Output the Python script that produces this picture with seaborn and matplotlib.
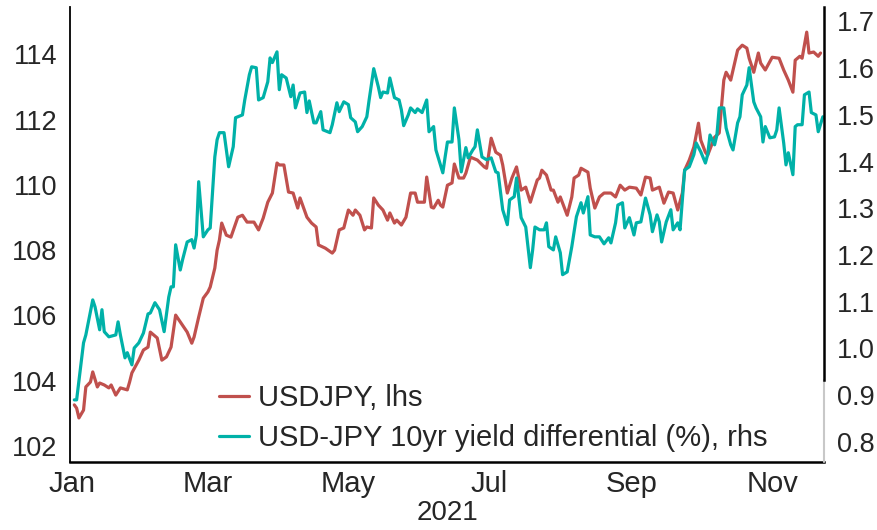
import numpy as np
import pandas as pd
import matplotlib
matplotlib.use("Agg")
import matplotlib.pyplot as plt
import matplotlib.dates as mdates
import seaborn as sns

# ---- data (days since 2021-01-01) ----
usdjpy_days = [1, 2, 3, 5, 6, 8, 9, 11, 12, 14, 16, 17, 19, 21, 24, 25, 26, 29, 31, 33,
               34, 37, 39, 41, 43, 45, 47, 50, 52, 53, 55, 57, 59, 60, 62, 63, 64, 65, 67, 69,
               72, 74, 76, 79, 81, 83, 85, 87, 89, 90, 92, 94, 96, 98, 99, 102, 104, 106, 107, 110,
               113, 114, 116, 118, 120, 122, 123, 125, 127, 128, 130, 131, 133, 135, 137, 138, 140, 141, 143, 145,
               147, 149, 150, 153, 154, 156, 157, 159, 160, 161, 163, 165, 166, 168, 170, 171, 173, 176, 179, 180,
               182, 184, 186, 187, 189, 191, 193, 195, 197, 199, 202, 203, 204, 206, 208, 209, 211, 212, 215, 217,
               218, 220, 221, 224, 225, 227, 229, 231, 234, 236, 238, 240, 242, 245, 247, 249, 251, 252, 255, 257,
               259, 261, 263, 265, 266, 268, 270, 272, 273, 275, 276, 278, 279, 281, 283, 284, 286, 287, 289, 291,
               293, 294, 296, 298, 299, 301, 304, 307, 309, 311, 313, 314, 316, 317, 319, 320, 322, 324, 325]
usdjpy_vals = [103.26, 103.16, 102.86, 103.10, 103.81, 103.96, 104.27, 103.81, 103.93, 103.87,
               103.78, 103.87, 103.56, 103.78, 103.72, 103.96, 104.24, 104.63, 104.94, 105.03,
               105.49, 105.31, 104.63, 104.73, 105.03, 106.01, 105.80, 105.49, 105.15, 105.34,
               105.95, 106.53, 106.72, 106.87, 107.45, 108.00, 108.31, 108.83, 108.46, 108.40,
               109.01, 109.07, 108.86, 108.86, 108.62, 108.98, 109.47, 109.75, 110.67, 110.61,
               110.61, 109.78, 109.75, 109.29, 109.60, 109.01, 108.83, 108.71, 108.16, 108.06,
               107.91, 108.00, 108.62, 108.68, 109.23, 109.07, 109.23, 109.07, 108.62, 108.71,
               108.68, 109.60, 109.38, 109.23, 108.92, 109.14, 108.83, 108.92, 108.77, 109.01,
               109.75, 109.75, 109.47, 109.47, 110.24, 109.32, 109.29, 109.53, 109.38, 109.32,
               109.99, 110.06, 110.64, 110.21, 110.21, 110.36, 110.85, 110.76, 110.55, 110.51,
               111.43, 111.00, 110.91, 110.61, 109.75, 110.21, 110.55, 109.84, 109.93, 109.47,
               110.15, 110.21, 110.45, 110.30, 109.84, 109.84, 109.47, 109.63, 109.07, 109.63,
               110.21, 110.30, 110.51, 110.39, 109.90, 109.29, 109.63, 109.75, 109.75, 109.63,
               109.99, 109.84, 109.93, 109.90, 109.69, 110.24, 110.21, 109.84, 109.93, 109.44,
               109.78, 109.75, 109.23, 109.75, 110.45, 110.76, 111.16, 111.89, 111.37, 111.00,
               110.91, 111.28, 111.46, 111.59, 113.21, 113.45, 113.21, 113.52, 114.13, 114.28,
               114.19, 113.88, 113.45, 114.04, 113.73, 113.52, 113.91, 113.88, 113.52, 113.21,
               112.84, 113.82, 113.94, 113.88, 114.68, 114.04, 114.07, 113.94, 114.04]

spread_days = [1, 2, 5, 6, 9, 10, 12, 13, 14, 16, 19, 20, 21, 23, 24, 26, 27, 29, 31, 33,
               34, 36, 38, 40, 42, 43, 44, 45, 47, 48, 50, 52, 53, 54, 55, 57, 59, 60, 62, 63,
               64, 66, 68, 70, 71, 74, 75, 77, 78, 80, 81, 83, 85, 86, 87, 89, 90, 91, 93, 95,
               96, 97, 99, 101, 102, 103, 105, 106, 108, 109, 111, 112, 113, 115, 116, 118, 120, 121, 123, 124,
               126, 128, 129, 131, 133, 134, 135, 137, 138, 140, 142, 143, 144, 146, 147, 149, 150, 152, 154, 155,
               157, 158, 161, 162, 163, 165, 166, 168, 169, 171, 172, 174, 175, 176, 178, 180, 182, 184, 185, 187,
               189, 190, 192, 193, 195, 197, 199, 200, 201, 203, 205, 206, 207, 209, 210, 212, 213, 215, 217, 219,
               221, 222, 224, 225, 227, 229, 231, 233, 234, 236, 237, 239, 240, 242, 244, 245, 247, 249, 251, 252,
               254, 255, 256, 258, 260, 261, 263, 264, 266, 268, 270, 271, 273, 275, 276, 277, 279, 280, 281, 283,
               284, 286, 287, 289, 290, 291, 293, 294, 296, 297, 299, 300, 301, 303, 305, 306, 307, 309, 310, 311,
               313, 314, 315, 317, 318, 320, 321, 323, 324, 326]
spread_vals = [0.890, 0.890, 1.012, 1.029, 1.104, 1.089, 1.040, 1.083, 1.036, 1.025,
               1.029, 1.057, 1.029, 0.980, 0.991, 0.965, 1.001, 1.012, 1.033, 1.074,
               1.076, 1.098, 1.083, 1.036, 1.110, 1.132, 1.132, 1.222, 1.168, 1.190,
               1.228, 1.233, 1.215, 1.243, 1.357, 1.239, 1.254, 1.258, 1.410, 1.447,
               1.462, 1.462, 1.389, 1.432, 1.494, 1.500, 1.532, 1.586, 1.603, 1.601,
               1.532, 1.537, 1.571, 1.622, 1.612, 1.635, 1.554, 1.586, 1.579, 1.539,
               1.564, 1.515, 1.547, 1.549, 1.505, 1.530, 1.483, 1.483, 1.507, 1.468,
               1.464, 1.462, 1.479, 1.526, 1.507, 1.528, 1.522, 1.494, 1.485, 1.464,
               1.475, 1.496, 1.532, 1.599, 1.560, 1.537, 1.549, 1.547, 1.579, 1.537,
               1.532, 1.511, 1.477, 1.500, 1.515, 1.505, 1.513, 1.505, 1.532, 1.464,
               1.475, 1.425, 1.376, 1.410, 1.442, 1.442, 1.515, 1.447, 1.378, 1.430,
               1.408, 1.425, 1.432, 1.468, 1.410, 1.404, 1.408, 1.378, 1.376, 1.297,
               1.265, 1.318, 1.325, 1.365, 1.280, 1.260, 1.173, 1.211, 1.260, 1.254,
               1.254, 1.269, 1.218, 1.211, 1.239, 1.205, 1.158, 1.164, 1.218, 1.282,
               1.312, 1.290, 1.325, 1.243, 1.239, 1.239, 1.224, 1.237, 1.226, 1.269,
               1.307, 1.312, 1.258, 1.280, 1.243, 1.269, 1.271, 1.322, 1.286, 1.250,
               1.286, 1.271, 1.228, 1.271, 1.297, 1.254, 1.269, 1.254, 1.382, 1.389,
               1.415, 1.440, 1.421, 1.397, 1.415, 1.457, 1.436, 1.457, 1.515, 1.515,
               1.472, 1.436, 1.425, 1.483, 1.496, 1.543, 1.564, 1.601, 1.528, 1.515,
               1.496, 1.442, 1.475, 1.451, 1.453, 1.468, 1.515, 1.440, 1.393, 1.419,
               1.372, 1.475, 1.479, 1.479, 1.543, 1.549, 1.505, 1.500, 1.464, 1.496]

labels = ["USDJPY, lhs", "USD-JPY 10yr yield differential (%), rhs"]
left_ticks = [102, 104, 106, 108, 110, 112, 114]
right_ticks = [0.8, 0.9, 1.0, 1.1, 1.2, 1.3, 1.4, 1.5, 1.6, 1.7]
year_label = "2021"

# ---- build frames ----
start = pd.Timestamp("2021-01-01")
df_usd = pd.DataFrame({"date": start + pd.to_timedelta(usdjpy_days, unit="D"), "value": usdjpy_vals})
df_spr = pd.DataFrame({"date": start + pd.to_timedelta(spread_days, unit="D"), "value": spread_vals})

sns.set_style("white")
plt.rcParams["font.family"] = ["Liberation Sans", "DejaVu Sans"]
FS_Y = 19.5
FS_X = 21
FS_LEG = 21

RED = "#C0504D"
TEAL = "#00B1A8"

fig = plt.figure(figsize=(8.77, 5.30), dpi=100)
ax = fig.add_axes([70 / 877, 68 / 530, 754 / 877, 455 / 530])
ax2 = ax.twinx()

sns.lineplot(data=df_usd, x="date", y="value", ax=ax, color=RED, lw=2.3, label=labels[0], legend=False)
sns.lineplot(data=df_spr, x="date", y="value", ax=ax2, color=TEAL, lw=2.3, label=labels[1], legend=False)

ax.set_xlim(start - pd.Timedelta(hours=21), start + pd.Timedelta(days=326.5))
ax.set_ylim(101.51, 115.45)
ax2.set_ylim(0.757, 1.731)

ax.set_yticks(left_ticks)
ax.set_yticklabels([str(t) for t in left_ticks])
ax2.set_yticks(right_ticks)
ax2.set_yticklabels([f"{t:.1f}" for t in right_ticks])

ax.xaxis.set_major_locator(mdates.MonthLocator(bymonth=[1, 3, 5, 7, 9, 11]))
ax.xaxis.set_major_formatter(mdates.DateFormatter("%b"))

ax.set_xlabel(year_label, fontsize=20, labelpad=1)
ax.set_ylabel("")
ax2.set_ylabel("")

ax.tick_params(axis="x", length=0, pad=6, labelsize=FS_X)
ax.tick_params(axis="y", length=0, pad=9, labelsize=FS_Y)
ax2.tick_params(axis="y", length=0, pad=9, labelsize=FS_Y)

for a in (ax, ax2):
    a.spines["top"].set_visible(False)
    a.grid(False)
ax.spines["left"].set_color("black")
ax.spines["left"].set_linewidth(1.3)
ax.spines["bottom"].set_color("black")
ax.spines["bottom"].set_linewidth(1.8)
ax.spines["right"].set_visible(False)
ax2.spines["left"].set_visible(False)
ax2.spines["bottom"].set_visible(False)
ax2.spines["right"].set_color("black")
ax2.spines["right"].set_linewidth(1.8)
ax2.spines["right"].set_bounds(0.933, 1.731)
ax2.plot([1, 1], [0, (0.933 - 0.757) / (1.731 - 0.757)], transform=ax2.transAxes,
         color="#C8C8C8", lw=1.5, clip_on=False)

h1, l1 = ax.get_legend_handles_labels()
h2, l2 = ax2.get_legend_handles_labels()
leg = ax2.legend(h1 + h2, l1 + l2, loc="lower left", bbox_to_anchor=(0.197, 0.022),
                 frameon=False, fontsize=FS_LEG, handlelength=1.05, handletextpad=0.3,
                 labelspacing=0.4, borderpad=0, borderaxespad=0)

fig.savefig("out.png", dpi=100)
